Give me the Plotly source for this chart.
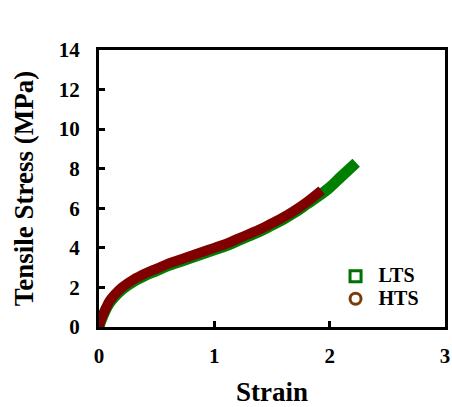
import plotly.graph_objects as go

# LTS data (strain, MPa)
lts_strain = [0.0, 0.01, 0.03, 0.06, 0.09, 0.13, 0.2, 0.3, 0.4, 0.5, 0.6, 0.7, 0.8, 0.9, 1.0, 1.1, 1.2, 1.3, 1.4, 1.5, 1.6, 1.7, 1.8, 1.9, 2.0, 2.1, 2.23]
lts_stress = [0.0, 0.2, 0.5, 0.9, 1.2, 1.5, 1.9, 2.3, 2.6, 2.85, 3.1, 3.3, 3.5, 3.7, 3.9, 4.1, 4.35, 4.6, 4.85, 5.15, 5.45, 5.8, 6.2, 6.6, 7.05, 7.6, 8.3]
# HTS data
hts_strain = [0.0, 0.01, 0.03, 0.06, 0.09, 0.13, 0.2, 0.3, 0.4, 0.5, 0.6, 0.7, 0.8, 0.9, 1.0, 1.1, 1.2, 1.3, 1.4, 1.5, 1.6, 1.7, 1.8, 1.93]
hts_stress = [0.0, 0.25, 0.55, 0.95, 1.3, 1.6, 2.0, 2.4, 2.7, 2.95, 3.2, 3.4, 3.6, 3.8, 4.0, 4.2, 4.45, 4.7, 4.95, 5.25, 5.55, 5.9, 6.3, 6.9]

x_ticks = [0, 1, 2, 3]
y_ticks = [0, 2, 4, 6, 8, 10, 12, 14]

FAM = "Liberation Serif"

fig = go.Figure()
fig.add_trace(go.Scatter(x=lts_strain, y=lts_stress, mode="lines",
                         line=dict(color="#008000", width=11, shape="spline"),
                         showlegend=False, hoverinfo="skip"))
fig.add_trace(go.Scatter(x=hts_strain, y=hts_stress, mode="lines",
                         line=dict(color="#800000", width=10, shape="spline"),
                         showlegend=False, hoverinfo="skip"))
fig.add_trace(go.Scatter(x=[None], y=[None], mode="markers",
                         name='<span style="font-size:20px"><b>LTS</b></span>',
                         marker=dict(symbol="square-open", size=11, color="#007000",
                                     line=dict(width=3, color="#007000"))))
fig.add_trace(go.Scatter(x=[None], y=[None], mode="markers",
                         name='<span style="font-size:20px"><b>HTS</b></span>',
                         marker=dict(symbol="circle-open", size=11, color="#7a3d0a",
                                     line=dict(width=3, color="#7a3d0a"))))

axis_common = dict(showline=True, linecolor="black", linewidth=3, mirror=True,
                   ticks="inside", ticklen=6, tickwidth=3, tickcolor="black",
                   showgrid=False, zeroline=False, automargin=False,
                   tickfont=dict(family=FAM, size=21, color="black"))

fig.update_xaxes(range=[0, 3], tickvals=x_ticks,
                 ticktext=[f"<b>{v}</b>" for v in x_ticks],
                 title=dict(text="<b>Strain</b>", font=dict(family=FAM, size=27, color="black"), standoff=16),
                 ticklabelstandoff=8, **axis_common)
fig.update_yaxes(range=[0, 14], tickvals=y_ticks,
                 ticktext=[f"<b>{v}</b>" for v in y_ticks],
                 title=dict(text="<b>Tensile Stress (MPa)</b>", font=dict(family=FAM, size=27, color="black"), standoff=18),
                 ticklabelstandoff=12, **axis_common)

fig.update_layout(width=452, height=407,
                  margin=dict(l=99, r=7, t=50, b=80),
                  plot_bgcolor="white", paper_bgcolor="white",
                  font=dict(family=FAM, color="black"),
                  legend=dict(x=0.675, y=0.242, xanchor="left", yanchor="top",
                              font=dict(family=FAM, size=15, color="black"),
                              bgcolor="rgba(0,0,0,0)", tracegroupgap=0, itemwidth=36))

fig.write_html("out.html")
